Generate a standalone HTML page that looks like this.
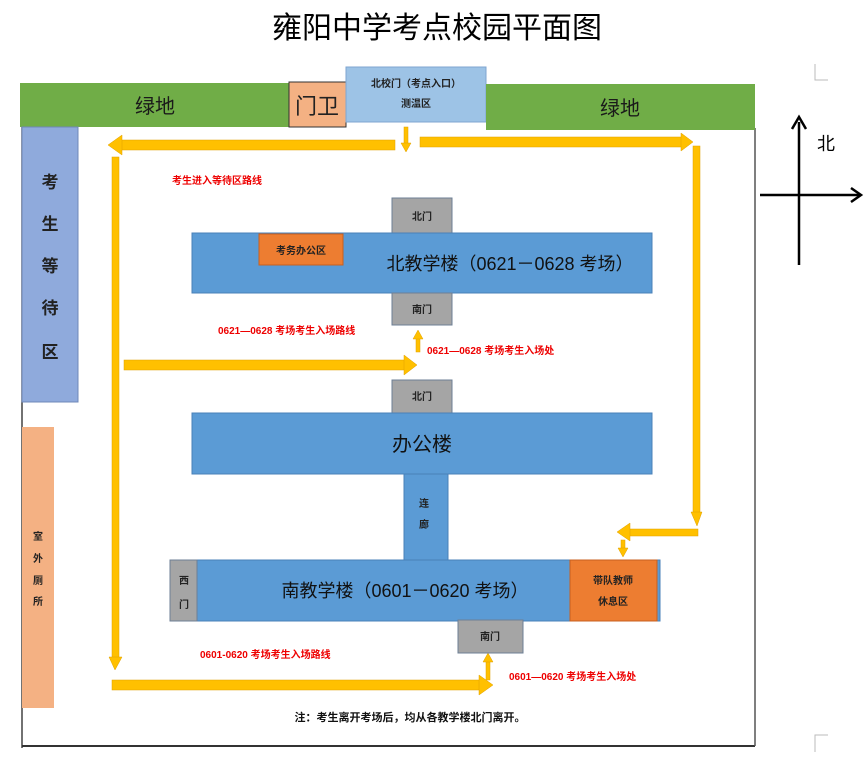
<!DOCTYPE html>
<html><head><meta charset="utf-8"><style>
body{margin:0;background:#fff;width:868px;height:755px;overflow:hidden}
svg text{font-family:"Liberation Sans","Noto Sans CJK SC",sans-serif}
</style></head><body>
<svg width="868" height="755" viewBox="0 0 868 755" xmlns="http://www.w3.org/2000/svg">
<text x="437" y="38" font-size="30" text-anchor="middle" fill="#000">雍阳中学考点校园平面图</text>
<!-- frame -->
<line x1="22" y1="85" x2="22" y2="748" stroke="#444" stroke-width="1.5"/>
<line x1="22" y1="746" x2="755" y2="746" stroke="#333" stroke-width="2"/>
<line x1="755" y1="128" x2="755" y2="746" stroke="#555" stroke-width="1.5"/>
<!-- corner marks -->
<path d="M815 64 V80 H828" fill="none" stroke="#bbb" stroke-width="1"/>
<path d="M815 752 V735 H828" fill="none" stroke="#bbb" stroke-width="1"/>
<!-- top -->
<rect x="20" y="83" width="270" height="44" fill="#70ad47"/>
<text x="155" y="113" font-size="20" text-anchor="middle" fill="#1a1a1a">绿地</text>
<rect x="289" y="82" width="57" height="45" fill="#f4b183" stroke="#333" stroke-width="1"/>
<text x="317" y="114" font-size="22" text-anchor="middle" fill="#222">门卫</text>
<rect x="346" y="67" width="140" height="55" fill="#9dc3e6" stroke="#7fa6d0" stroke-width="1"/>
<text x="416" y="87" font-size="10" font-weight="bold" text-anchor="middle" fill="#222">北校门（考点入口）</text>
<text x="416" y="107" font-size="10" font-weight="bold" text-anchor="middle" fill="#222">测温区</text>
<rect x="486" y="84" width="269" height="46" fill="#70ad47"/>
<text x="620" y="115" font-size="20" text-anchor="middle" fill="#1a1a1a">绿地</text>
<!-- left areas -->
<rect x="22" y="127" width="56" height="275" fill="#8faadc" stroke="#6f88b8" stroke-width="1"/>
<g font-size="17" font-weight="bold" text-anchor="middle" fill="#222">
<text x="50" y="188">考</text><text x="50" y="230">生</text><text x="50" y="272">等</text><text x="50" y="314">待</text><text x="50" y="358">区</text></g>
<rect x="22" y="427" width="32" height="281" fill="#f4b183"/>
<g font-size="10" font-weight="bold" text-anchor="middle" fill="#222">
<text x="38" y="540">室</text><text x="38" y="562">外</text><text x="38" y="584">厕</text><text x="38" y="605">所</text></g>
<!-- arrows -->
<g fill="#ffc000" stroke="#e0a000" stroke-width="0.5">
<rect x="118" y="140" width="277" height="10"/><polygon points="108,145 122,135 122,155"/>
<rect x="420" y="137" width="262" height="10"/><polygon points="693,142 681,133 681,151"/>
<rect x="693" y="146" width="7" height="368"/><polygon points="691,512 702,512 697,526"/>
<rect x="112" y="157" width="7" height="502"/><polygon points="109,657 122,657 115,670"/>
<rect x="112" y="680" width="368" height="10"/><polygon points="493,685 479,675 479,695"/>
<rect x="124" y="360" width="282" height="10"/><polygon points="417,365 404,355 404,375"/>
<rect x="628" y="529" width="70" height="7"/><polygon points="617,532 630,523 630,541"/>
<rect x="404" y="127" width="4" height="18"/><polygon points="401,143 411,143 406,152"/>
<rect x="621" y="540" width="4" height="10"/><polygon points="618,548 628,548 623,557"/>
<rect x="416" y="337" width="4" height="15"/><polygon points="413,339 423,339 418,330"/>
<rect x="486" y="660" width="4" height="20"/><polygon points="483,662 493,662 488,653"/>
</g>
<!-- north building -->
<rect x="392" y="198" width="60" height="35" fill="#a5a5a5" stroke="#6d7f95" stroke-width="1"/>
<text x="422" y="220" font-size="10" font-weight="bold" text-anchor="middle" fill="#222">北门</text>
<rect x="192" y="233" width="460" height="60" fill="#5b9bd5" stroke="#4a80b8" stroke-width="1"/>
<rect x="259" y="234" width="84" height="31" fill="#ed7d31" stroke="#c86020" stroke-width="1"/>
<text x="301" y="254" font-size="10" font-weight="bold" text-anchor="middle" fill="#222">考务办公区</text>
<text x="510" y="270" font-size="18" text-anchor="middle" fill="#111">北教学楼（0621－0628 考场）</text>
<rect x="392" y="293" width="60" height="32" fill="#a5a5a5" stroke="#6d7f95" stroke-width="1"/>
<text x="422" y="313" font-size="10" font-weight="bold" text-anchor="middle" fill="#222">南门</text>
<text x="218" y="334" font-size="10" font-weight="bold" fill="#e00">0621—0628 考场考生入场路线</text>
<text x="427" y="354" font-size="10" font-weight="bold" fill="#e00">0621—0628 考场考生入场处</text>
<text x="172" y="184" font-size="10" font-weight="bold" fill="#e00">考生进入等待区路线</text>
<!-- office -->
<rect x="392" y="380" width="60" height="33" fill="#a5a5a5" stroke="#6d7f95" stroke-width="1"/>
<text x="422" y="400" font-size="10" font-weight="bold" text-anchor="middle" fill="#222">北门</text>
<rect x="192" y="413" width="460" height="61" fill="#5b9bd5" stroke="#4a80b8" stroke-width="1"/>
<text x="422" y="451" font-size="20" text-anchor="middle" fill="#111">办公楼</text>
<rect x="404" y="474" width="44" height="86" fill="#5b9bd5" stroke="#4a80b8" stroke-width="1"/>
<text x="424" y="507" font-size="10" font-weight="bold" text-anchor="middle" fill="#222">连</text>
<text x="424" y="528" font-size="10" font-weight="bold" text-anchor="middle" fill="#222">廊</text>
<!-- south -->
<rect x="170" y="560" width="490" height="61" fill="#5b9bd5" stroke="#4a80b8" stroke-width="1"/>
<rect x="170" y="560" width="27" height="61" fill="#a5a5a5" stroke="#6d7f95" stroke-width="1"/>
<text x="184" y="584" font-size="10" font-weight="bold" text-anchor="middle" fill="#222">西</text>
<text x="184" y="608" font-size="10" font-weight="bold" text-anchor="middle" fill="#222">门</text>
<rect x="570" y="560" width="87" height="61" fill="#ed7d31" stroke="#c86020" stroke-width="1"/>
<text x="613" y="584" font-size="10" font-weight="bold" text-anchor="middle" fill="#222">带队教师</text>
<text x="613" y="605" font-size="10" font-weight="bold" text-anchor="middle" fill="#222">休息区</text>
<text x="405" y="597" font-size="18" text-anchor="middle" fill="#111">南教学楼（0601－0620 考场）</text>
<rect x="458" y="620" width="65" height="33" fill="#a5a5a5" stroke="#6d7f95" stroke-width="1"/>
<text x="490" y="640" font-size="10" font-weight="bold" text-anchor="middle" fill="#222">南门</text>
<text x="200" y="658" font-size="10" font-weight="bold" fill="#e00">0601-0620 考场考生入场路线</text>
<text x="509" y="680" font-size="10" font-weight="bold" fill="#e00">0601—0620 考场考生入场处</text>
<text x="410" y="721" font-size="11" font-weight="bold" text-anchor="middle" fill="#111">注：考生离开考场后，均从各教学楼北门离开。</text>
<!-- compass -->
<line x1="799" y1="122" x2="799" y2="265" stroke="#000" stroke-width="2.5"/>
<polyline points="792,129 799,117 806,129" fill="none" stroke="#000" stroke-width="2.5"/>
<line x1="760" y1="195" x2="860" y2="195" stroke="#000" stroke-width="2.5"/>
<polyline points="851,188 861,195 851,202" fill="none" stroke="#000" stroke-width="2.5"/>
<text x="826" y="150" font-size="18" text-anchor="middle" fill="#000">北</text>
</svg>
</body></html>
